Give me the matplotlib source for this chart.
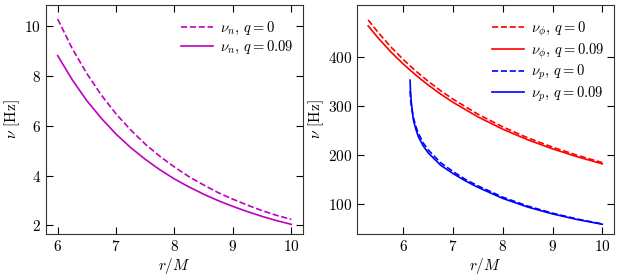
import numpy as np
import matplotlib
matplotlib.use("Agg")
import matplotlib.pyplot as plt

plt.rcParams.update({
    "font.family": "serif",
    "font.serif": ["cmr10", "DejaVu Serif"],
    "mathtext.fontset": "cm",
    "axes.formatter.use_mathtext": True,
    "font.size": 11,
    "legend.fontsize": 10.5,
    "xtick.direction": "in",
    "ytick.direction": "in",
    "xtick.top": True,
    "ytick.right": True,
    "xtick.major.size": 5,
    "ytick.major.size": 5,
    "axes.edgecolor": "#333333",
    "axes.labelpad": 1.5,
})

# --- panel 1: nodal frequency ---
r_n = [6.0, 6.25, 6.5, 6.75, 7.0, 7.25, 7.5, 7.75, 8.0,
       8.25, 8.5, 8.75, 9.0, 9.25, 9.5, 9.75, 10.0]
nu_n_q0 = [10.28, 9.09, 8.09, 7.22, 6.47, 5.83, 5.26, 4.77, 4.34,
           3.95, 3.62, 3.31, 3.05, 2.81, 2.59, 2.40, 2.24]
nu_n_q009 = [8.81, 7.84, 7.00, 6.29, 5.66, 5.12, 4.65, 4.23, 3.86,
             3.54, 3.25, 2.99, 2.76, 2.55, 2.36, 2.19, 2.04]

# --- panel 2: orbital and periastron frequencies ---
r_phi = [5.29, 5.5, 5.75, 6.0, 6.25, 6.5, 6.75, 7.0, 7.5,
         8.0, 8.5, 9.0, 9.5, 10.0]
nu_phi_q0 = [474.7, 448.1, 419.4, 393.8, 370.6, 349.7, 330.6, 313.3, 282.8,
             257.0, 234.8, 215.8, 199.1, 184.5]
nu_phi_q009 = [462.5, 436.9, 409.3, 384.6, 362.3, 342.1, 323.7, 306.9, 277.4,
               252.3, 230.9, 212.4, 196.2, 182.0]

r_p = [6.134, 6.14, 6.16, 6.2, 6.25, 6.3, 6.4, 6.5, 6.75, 7.0, 7.25, 7.5,
       8.0, 8.5, 9.0, 9.5, 10.0]
nu_p_q0 = [330, 318, 298, 276, 258, 244, 224, 210, 184, 166, 150, 137,
           114, 96, 81.5, 69.5, 59.5]
nu_p_q009 = [352, 333, 305, 271, 252, 237, 218, 204, 179, 162, 147, 134,
             111.5, 94, 80, 68.5, 59]

fig = plt.figure(figsize=(6.23, 2.80), dpi=100)
ax1 = fig.add_axes([0.0738, 0.164, 0.4125, 0.818])
ax2 = fig.add_axes([0.573, 0.164, 0.4125, 0.818])

leg_kw = dict(loc="upper right", bbox_to_anchor=(1.02, 1.0), frameon=False,
              handlelength=2.2, handletextpad=0.5, borderaxespad=0.6,
              labelspacing=0.15)

ax1.plot(r_n, nu_n_q0, "m--", lw=1.2, label=r"$\nu_n$, $q=0$")
ax1.plot(r_n, nu_n_q009, "m-", lw=1.2, label=r"$\nu_n$, $q=0.09$")
ax1.set_xlim(5.8, 10.2)
ax1.set_ylim(1.65, 10.84)
ax1.set_xticks([6, 7, 8, 9, 10])
ax1.set_yticks([2, 4, 6, 8, 10])
ax1.set_xlabel(r"$r/M$")
ax1.set_ylabel(r"$\nu$ [Hz]")
ax1.legend(**leg_kw)

ax2.plot(r_phi, nu_phi_q0, "r--", lw=1.2, label=r"$\nu_\phi$, $q=0$")
ax2.plot(r_phi, nu_phi_q009, "r-", lw=1.2, label=r"$\nu_\phi$, $q=0.09$")
ax2.plot(r_p, nu_p_q0, "b--", lw=1.2, label=r"$\nu_p$, $q=0$")
ax2.plot(r_p, nu_p_q009, "b-", lw=1.2, label=r"$\nu_p$, $q=0.09$")
ax2.set_xlim(5.065, 10.235)
ax2.set_ylim(39, 505)
ax2.set_xticks([6, 7, 8, 9, 10])
ax2.set_yticks([100, 200, 300, 400])
ax2.set_xlabel(r"$r/M$")
ax2.set_ylabel(r"$\nu$ [Hz]")
ax2.legend(**leg_kw)

fig.savefig("out.png", dpi=100)
